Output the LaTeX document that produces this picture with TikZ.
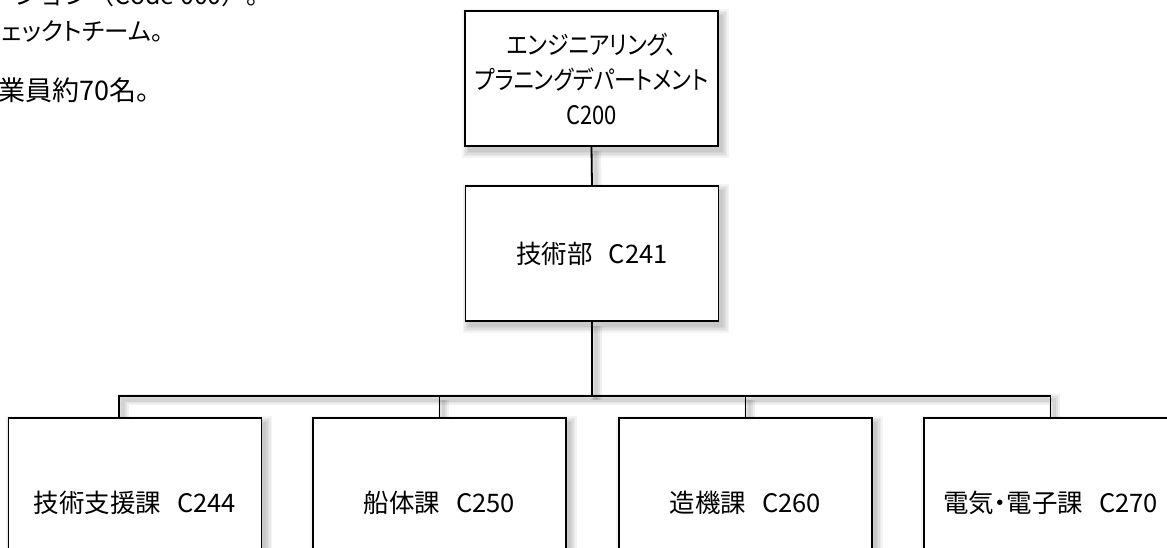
\documentclass[tikz,border=0pt]{standalone}
\usepackage{fontspec}
\setmainfont{Noto Sans CJK JP}[RawFeature=+palt]
\newfontfamily\condfont{Noto Sans CJK JP}[RawFeature=+palt, FakeStretch=0.86]
\newfontfamily\fullfont{Noto Sans CJK JP}
\pgfdeclarelayer{background}
\pgfdeclarelayer{lines}
\pgfsetlayers{background,lines,main}
\tikzset{
  box/.style={draw=black, line width=1.6pt, fill=white, minimum width=253pt,
    minimum height=135pt, inner sep=0pt, align=center,
    font=\fontsize{25.5}{34}\selectfont},
  lowbox/.style={box, minimum height=170pt},
  conn/.style={draw=black, line width=1.8pt},
  lsh/.style={draw=black, line width=#1, opacity=0.06, transform canvas={shift={(4pt,-4pt)}}},
  bsh/.style={fill=black, opacity=0.045},
  tl/.style={inner sep=0pt}
}
\begin{document}
\begin{tikzpicture}[x=1pt,y=-1pt]
\useasboundingbox (0,0) rectangle (1167,548);
\begin{pgfonlayer}{background}
\fill[white] (0,0) rectangle (1167,548);
\end{pgfonlayer}
\clip (0,0) rectangle (1167,548);

% notes at top left (partly cut off)
\node[tl, font=\fullfont\fontsize{25}{26}\selectfont, anchor=base east] (t1) at (272,5) {ーション（Code 000）。};
\node[tl, font=\fontsize{24.5}{26}\selectfont, anchor=base west] (t2) at (2,41) {ェックトチーム。};
\node[tl, font=\fontsize{27}{27}\selectfont, anchor=base east] (t3) at (150,101) {業員約70名。};

% boxes
\node[box, font=\condfont\fontsize{25.5}{35}\selectfont] (top) at (591.5,78.5) {エンジニアリング、\\プラニングデパートメント\\C200};
\node[box] (mid) at (592,253.5) {技術部\hspace{16pt}C241};
\node[lowbox] (b1) at (135,503) {技術支援課\hspace{16pt}C244};
\node[lowbox] (b2) at (439.5,503) {船体課\hspace{16pt}C250};
\node[lowbox] (b3) at (745.5,503) {造機課\hspace{16pt}C260};
\node[lowbox] (b4) at (1050.5,503) {電気・電子課\hspace{16pt}C270};

\path (mid.south) ++(0,74) coordinate (bus);

\newcommand\drawconnectors[1]{%
  \draw[#1] (top.south) -- (mid.north);
  \draw[#1] (mid.south) -- (bus);
  \draw[#1] ([xshift=-16pt]b1.north) |- (b4.north |- bus) -- (b4.north);
  \draw[#1] (b2.north) -- (b2.north |- bus);
  \draw[#1] (b3.north) -- (b3.north |- bus);
}
\begin{pgfonlayer}{lines}
% soft box shadows
\foreach \n in {top,mid,b1,b2,b3,b4}{
  \foreach \d in {0,1.5,3,4.5,6}{
    \fill[bsh] ([shift={(4-\d,5-\d)}]\n.north west) rectangle ([shift={(4+\d,5+\d)}]\n.south east);
  }
}
\drawconnectors{lsh=11pt}
\drawconnectors{lsh=7pt}
\drawconnectors{lsh=3.5pt}
\drawconnectors{conn}
\end{pgfonlayer}
\end{tikzpicture}
\end{document}
